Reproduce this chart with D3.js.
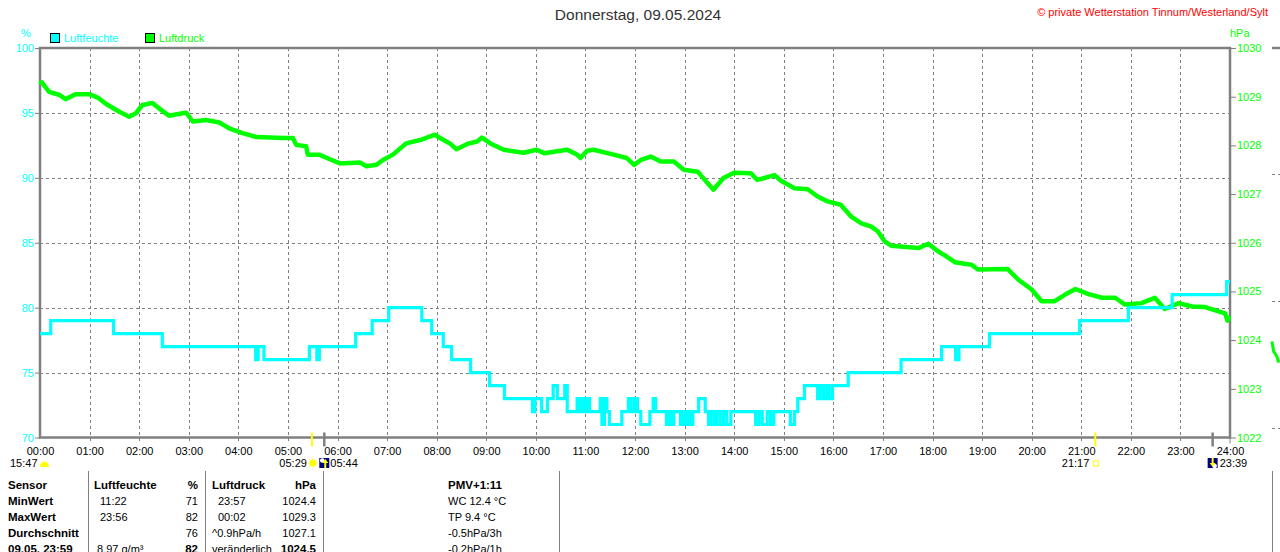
<!DOCTYPE html>
<html>
<head>
<meta charset="utf-8">
<script src="https://cdn.jsdelivr.net/npm/d3@7"></script>
<style>
    body { margin: 0; background: #fff; overflow: hidden; }
    svg { display: block; font-family: "Liberation Sans", Arial, sans-serif; }
</style>
</head>
<body>
<div id="chart"></div>
<script>
// ---- data ----
const hourLabels = ["00:00","01:00","02:00","03:00","04:00","05:00","06:00","07:00","08:00","09:00","10:00","11:00",
    "12:00","13:00","14:00","15:00","16:00","17:00","18:00","19:00","20:00","21:00","22:00","23:00","24:00"];
const humTicks = [70, 75, 80, 85, 90, 95, 100];
const pressTicks = [1022, 1023, 1024, 1025, 1026, 1027, 1028, 1029, 1030];

// Luftfeuchte (%), step changes
const humTime = ["00:00","00:13","01:29","02:28","04:21","04:24","04:31","05:26","05:35","05:38",
    "06:22","06:42","07:02","07:42","07:54","08:08","08:18","08:41","09:04","09:22",
    "09:56","09:59","10:07","10:14","10:21","10:26","10:35","10:38","10:50","10:53",
    "10:56","10:59","11:02","11:05","11:18","11:20","11:23","11:26","11:29","11:44",
    "11:52","11:55","11:59","12:03","12:07","12:18","12:22","12:25","12:38","12:41",
    "12:44","12:47","12:55","12:58","13:01","13:04","13:07","13:10","13:17","13:25",
    "13:29","13:32","13:36","13:39","13:43","13:47","13:51","13:56","14:26","14:30",
    "14:34","14:40","14:44","14:48","15:08","15:13","15:17","15:25","15:41","15:44",
    "15:48","15:52","15:55","15:59","16:18","17:22","18:11","18:28","18:32","19:09",
    "20:58","21:57","22:50","23:56","24:00"];
const humValue = [78,79,78,77,76,77,76,77,76,77,
    78,79,80,79,78,77,76,75,74,73,
    72,73,72,73,74,73,74,72,73,72,
    73,72,73,72,73,71,73,72,71,72,
    73,72,73,72,71,72,73,72,71,72,
    71,72,71,72,71,72,71,72,73,72,
    71,72,71,72,71,72,71,72,71,72,
    71,72,71,72,71,72,73,74,73,74,
    73,74,73,74,75,76,77,76,77,78,
    79,80,81,82,82];

// Luftdruck (hPa)
const pressTime = ["00:00","00:02","00:11","00:23","00:31","00:43","01:00","01:11","01:20","01:36",
    "01:48","01:56","02:04","02:16","02:24","02:36","02:49","02:57","03:05","03:21",
    "03:37","03:49","04:05","04:22","04:54","05:06","05:10","05:22","05:24","05:38",
    "05:50","06:03","06:27","06:35","06:47","06:55","07:07","07:23","07:40","07:58",
    "08:04","08:16","08:24","08:37","08:49","08:55","09:05","09:21","09:45","10:01",
    "10:10","10:38","10:50","10:54","11:02","11:10","11:34","11:50","11:59","12:07",
    "12:19","12:31","12:47","12:59","13:16","13:28","13:35","13:47","14:00","14:20",
    "14:28","14:49","14:56","15:13","15:29","15:41","15:53","16:09","16:22","16:34",
    "16:46","16:54","17:02","17:10","17:43","17:55","18:07","18:14","18:27","18:47",
    "18:55","19:31","19:44","20:00","20:12","20:28","20:40","20:53","21:08","21:25",
    "21:41","21:53","22:13","22:29","22:41","22:58","23:14","23:30","23:46","23:54",
    "23:57","23:59"];
const pressValue = [1029.25,1029.30,1029.10,1029.04,1028.95,1029.05,1029.05,1028.97,1028.85,1028.69,
    1028.59,1028.66,1028.83,1028.87,1028.76,1028.61,1028.65,1028.67,1028.49,1028.52,
    1028.47,1028.35,1028.25,1028.17,1028.15,1028.15,1028.01,1027.98,1027.81,1027.81,
    1027.72,1027.63,1027.65,1027.57,1027.60,1027.70,1027.81,1028.04,1028.11,1028.22,
    1028.15,1028.04,1027.92,1028.03,1028.08,1028.16,1028.04,1027.91,1027.85,1027.91,
    1027.84,1027.91,1027.81,1027.74,1027.89,1027.91,1027.81,1027.74,1027.60,1027.70,
    1027.77,1027.67,1027.67,1027.50,1027.46,1027.22,1027.09,1027.33,1027.44,1027.43,
    1027.29,1027.39,1027.28,1027.12,1027.10,1026.95,1026.85,1026.78,1026.53,1026.40,
    1026.33,1026.23,1026.03,1025.94,1025.89,1025.98,1025.82,1025.75,1025.60,1025.55,
    1025.45,1025.46,1025.24,1025.04,1024.80,1024.80,1024.93,1025.05,1024.95,1024.87,
    1024.87,1024.73,1024.76,1024.87,1024.64,1024.76,1024.69,1024.68,1024.59,1024.55,
    1024.40,1024.50];

// start of the next day's chart, just visible at the right edge
const nextPressTime = ["00:00","00:02","00:04","00:06","00:08"];
const nextPressValue = [1023.97, 1023.77, 1023.72, 1023.66, 1023.54];

// sun / moon events
const astroTimes = ["05:29", "05:44", "21:17", "23:39"];
const astroKinds = ["sunrise", "moonrise", "sunset", "moonset"];

// summary table (text, bold flag, indent)
const tableRows = [
    [["Sensor",1],["Luftfeuchte",1,-3],["%",1],["Luftdruck",1],["hPa",1],["PMV+1:11",1]],
    [["MinWert",1],["11:22",0,3],["71",0],["23:57",0,6],["1024.4",0],["WC 12.4 °C",0]],
    [["MaxWert",1],["23:56",0,3],["82",0],["00:02",0,6],["1029.3",0],["TP 9.4 °C",0]],
    [["Durchschnitt",1],["",0],["76",0],["^0.9hPa/h",0],["1027.1",0],["-0.5hPa/3h",0]],
    [["09.05. 23:59",1],["8.97 g/m³",0],["82",1],["veränderlich",0],["1024.5",1],["-0.2hPa/1h",0]]
];

// ---- drawing ----
const toMin = s => { const [h, m] = s.split(":").map(Number); return h * 60 + m; };

const W = 1280, H = 552;
const plot = { left: 40, right: 1230, top: 48, bottom: 437.5 };
const FONT = '"Liberation Sans", Arial, sans-serif';
const GRAY = "#808080", CYAN = "#00FFFF", GREEN = "#00FF00";

const svg = d3.select("#chart").append("svg")
    .attr("width", W)
    .attr("height", H);

const x = d3.scaleLinear().domain([0, 1440]).range([plot.left, plot.right]);
const yHum = d3.scaleLinear().domain([70, 100]).range([plot.bottom, plot.top]);
const yPress = d3.scaleLinear().domain([1022, 1030]).range([plot.bottom, plot.top]);
const hourTicks = hourLabels.map(toMin);

// dashed grid
const grid = svg.append("g")
    .attr("stroke", GRAY)
    .attr("stroke-dasharray", "3,3")
    .attr("shape-rendering", "crispEdges");

grid.selectAll("line.h")
    .data(humTicks.slice(1, -1))
    .join("line")
    .attr("class", "h")
    .attr("x1", plot.left).attr("x2", plot.right)
    .attr("y1", d => Math.round(yHum(d)) + 0.5)
    .attr("y2", d => Math.round(yHum(d)) + 0.5);

grid.selectAll("line.v")
    .data(hourTicks.slice(1, -1))
    .join("line")
    .attr("class", "v")
    .attr("x1", d => Math.round(x(d)) + 0.5)
    .attr("x2", d => Math.round(x(d)) + 0.5)
    .attr("y1", plot.top).attr("y2", plot.bottom + 5);

// axes
const gLeft = svg.append("g")
    .attr("transform", `translate(${plot.left},0)`)
    .call(d3.axisLeft(yHum).tickValues(humTicks).tickSize(5).tickPadding(1))
    .attr("font-family", FONT).attr("font-size", 11);
gLeft.select(".domain").remove();
gLeft.selectAll("line").attr("stroke", GRAY);
gLeft.selectAll("text").attr("fill", CYAN);

const gRight = svg.append("g")
    .attr("transform", `translate(${plot.right},0)`)
    .call(d3.axisRight(yPress).tickValues(pressTicks).tickFormat(d3.format("d")).tickSize(6).tickPadding(1))
    .attr("font-family", FONT).attr("font-size", 11);
gRight.select(".domain").remove();
gRight.selectAll("line").attr("stroke", GRAY);
gRight.selectAll("text").attr("fill", GREEN);

const gBottom = svg.append("g")
    .attr("transform", `translate(0,${plot.bottom})`)
    .call(d3.axisBottom(x).tickValues(hourTicks).tickFormat((d, i) => hourLabels[i]).tickSize(0).tickPadding(10))
    .attr("font-family", FONT).attr("font-size", 11);
gBottom.select(".domain").remove();
gBottom.selectAll("text").attr("fill", "#000");

// frame
svg.append("path")
    .attr("d", `M${plot.left},${plot.top}H${plot.right}V${plot.bottom}H${plot.left}Z`)
    .attr("fill", "none")
    .attr("stroke", GRAY)
    .attr("stroke-width", 2.5);

// small tick under the 24:00 end of the axis
svg.append("line")
    .attr("x1", plot.right).attr("x2", plot.right)
    .attr("y1", plot.bottom).attr("y2", plot.bottom + 6)
    .attr("stroke", GRAY).attr("stroke-width", 1);

// series
const pressLine = d3.line()
    .x((d, i) => x(toMin(pressTime[i])))
    .y(d => yPress(d));

svg.append("path")
    .datum(pressValue)
    .attr("d", pressLine)
    .attr("fill", "none")
    .attr("stroke", GREEN)
    .attr("stroke-width", 4.5)
    .attr("stroke-linejoin", "round");

const humLine = d3.line()
    .curve(d3.curveStepAfter)
    .x((d, i) => x(toMin(humTime[i])))
    .y(d => yHum(d));

svg.append("path")
    .datum(humValue)
    .attr("d", humLine)
    .attr("fill", "none")
    .attr("stroke", CYAN)
    .attr("stroke-width", 3.2);

// neighbouring chart fragment at the right edge
const xNext = d3.scaleLinear().domain([0, 1440]).range([1272, 1272 + (plot.right - plot.left)]);
svg.append("line")
    .attr("x1", 1272).attr("x2", 1280).attr("y1", plot.top).attr("y2", plot.top)
    .attr("stroke", GRAY).attr("stroke-width", 2.5);
svg.append("g")
    .attr("stroke", GRAY).attr("stroke-dasharray", "3,3").attr("shape-rendering", "crispEdges")
    .selectAll("line")
    .data([174.5, 301.5, 428.5])
    .join("line")
    .attr("x1", 1272).attr("x2", 1280)
    .attr("y1", d => d).attr("y2", d => d);
svg.append("path")
    .datum(nextPressValue)
    .attr("d", d3.line().x((d, i) => xNext(toMin(nextPressTime[i]))).y(d => yPress(d)))
    .attr("fill", "none")
    .attr("stroke", GREEN)
    .attr("stroke-width", 3);

// header
svg.append("text")
    .attr("x", 638).attr("y", 15).attr("dy", "0.35em")
    .attr("text-anchor", "middle")
    .attr("font-size", 15.5)
    .attr("fill", "#333")
    .text("Donnerstag, 09.05.2024");

svg.append("text")
    .attr("x", 1268).attr("y", 12).attr("dy", "0.35em")
    .attr("text-anchor", "end")
    .attr("font-size", 11)
    .attr("fill", "#FF0000")
    .text("© private Wetterstation Tinnum/Westerland/Sylt");

svg.append("text")
    .attr("x", 26).attr("y", 33).attr("dy", "0.35em")
    .attr("text-anchor", "middle").attr("font-size", 11).attr("fill", CYAN)
    .text("%");

svg.append("text")
    .attr("x", 1230).attr("y", 33).attr("dy", "0.35em")
    .attr("font-size", 11).attr("fill", GREEN)
    .text("hPa");

// legend
const legendItems = [["Luftfeuchte", CYAN, 50], ["Luftdruck", GREEN, 145]];
const legend = svg.append("g").selectAll("g")
    .data(legendItems)
    .join("g")
    .attr("transform", d => `translate(${d[2]},33)`);
legend.append("rect")
    .attr("x", 0.5).attr("y", 0.5).attr("width", 9).attr("height", 9)
    .attr("fill", d => d[1]).attr("stroke", "#000");
legend.append("text")
    .attr("x", 14).attr("y", 5).attr("dy", "0.35em")
    .attr("font-size", 11).attr("fill", d => d[1])
    .text(d => d[0]);

// sun / moon markers
const astro = svg.append("g").attr("font-size", 11);

astroTimes.forEach((t, i) => {
    const kind = astroKinds[i];
    const px = x(toMin(t));
    const isSun = kind.startsWith("sun");

    astro.append("line")
        .attr("x1", px).attr("x2", px)
        .attr("y1", plot.bottom - 5).attr("y2", plot.bottom + 9)
        .attr("stroke", isSun ? "#FFFF00" : GRAY)
        .attr("stroke-width", isSun ? 2 : 2.5);

    if (kind === "sunrise") {
        astro.append("text").attr("x", px - 5).attr("y", 463).attr("dy", "0.35em")
            .attr("text-anchor", "end").text(t);
        const sun = astro.append("g").attr("transform", `translate(${px + 1},463)`);
        d3.range(8).forEach(k => {
            const a = k * Math.PI / 4;
            sun.append("line")
                .attr("x1", Math.cos(a) * 3).attr("y1", Math.sin(a) * 3)
                .attr("x2", Math.cos(a) * 5.5).attr("y2", Math.sin(a) * 5.5)
                .attr("stroke", "#FFFF99").attr("stroke-width", 1.2);
        });
        sun.append("circle").attr("r", 3.6).attr("fill", "#FFFF00");
    } else if (kind === "sunset") {
        astro.append("text").attr("x", px - 6).attr("y", 463).attr("dy", "0.35em")
            .attr("text-anchor", "end").text(t);
        astro.append("rect")
            .attr("x", px - 2).attr("y", 461).attr("width", 5).attr("height", 5)
            .attr("fill", "none").attr("stroke", "#FFFF00").attr("stroke-width", 1);
    } else {
        const up = kind === "moonrise";
        const icon = astro.append("g").attr("transform", `translate(${px - 5},458)`);
        icon.append("rect").attr("width", 10).attr("height", 10).attr("fill", "#000080");
        icon.append("circle").attr("cx", up ? 3 : 7).attr("cy", up ? 2.5 : 8)
            .attr("r", 2.3).attr("fill", "#fff");
        icon.append("path")
            .attr("d", up ? "M6,1 L9,5 L7,5 L7,10 L5,10 L5,5 L3,5 Z"
                          : "M5,9 L2,5 L4,5 L4,0 L6,0 L6,5 L8,5 Z")
            .attr("fill", "#FFFF00");
        astro.append("text").attr("x", px + (up ? 6 : 7)).attr("y", 463).attr("dy", "0.35em")
            .text(t);
    }
});

// moon set from the previous day, drawn at the left edge
astro.append("text").attr("x", 10).attr("y", 463).attr("dy", "0.35em").text("15:47");
astro.append("path")
    .attr("d", "M40,467 C40,460 49,460 49,467 Z")
    .attr("fill", "#FFFF00");

// summary table
const colX = [8, 97, 198, 212, 316, 448];
const colAnchor = ["start", "start", "end", "start", "end", "start"];

const table = svg.append("g").attr("font-size", 11).attr("fill", "#000");
tableRows.forEach((row, r) => {
    row.forEach((cell, c) => {
        table.append("text")
            .attr("x", colX[c] + (cell[2] || 0))
            .attr("y", 485 + r * 16)
            .attr("dy", "0.35em")
            .attr("text-anchor", colAnchor[c])
            .attr("font-weight", cell[1] ? "bold" : "normal")
            .attr("font-size", cell[1] ? 11.5 : 11)
            .text(cell[0]);
    });
});

svg.append("g")
    .attr("stroke", GRAY)
    .attr("shape-rendering", "crispEdges")
    .selectAll("line")
    .data([88, 205, 323, 559, 1272])
    .join("line")
    .attr("x1", d => d + 0.5).attr("x2", d => d + 0.5)
    .attr("y1", 471).attr("y2", H);
</script>
</body>
</html>
